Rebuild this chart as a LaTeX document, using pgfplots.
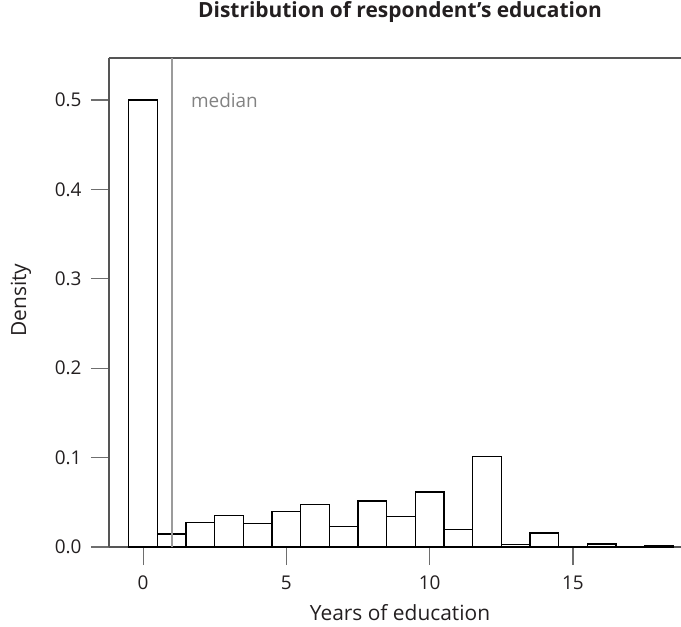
\documentclass[border=0pt]{standalone}
\usepackage{pgfplots}
\pgfplotsset{compat=1.18}
\usepackage{fontspec}
\setmainfont{Open Sans}
\definecolor{axgray}{RGB}{85,85,85}
\definecolor{tickgray}{RGB}{110,110,110}
\definecolor{txt}{RGB}{35,31,32}
\definecolor{medgray}{RGB}{155,155,155}
\definecolor{medtxt}{RGB}{130,130,130}
\begin{document}
\begin{tikzpicture}
\useasboundingbox (-109bp,-80bp) rectangle (572bp,547bp);
\begin{axis}[
  at={(0,0)}, anchor=south west,
  scale only axis, width=572bp, height=489bp,
  xmin=-1.19, xmax=18.77, ymin=0, ymax=0.547,
  axis x line=box, axis y line=left,
  axis line style={-, axgray, line width=1.3bp},
  xtick={0,5,10,15}, ytick={0,0.1,0.2,0.3,0.4,0.5},
  xtick pos=bottom, ytick pos=left,
  tick align=outside, major tick length=18bp,
  tick style={tickgray, line width=1.1bp},
  /pgf/number format/assume math mode=true,
  tick label style={font=\fontsize{19}{22}\selectfont, text=txt},
  yticklabel style={/pgf/number format/fixed, /pgf/number format/fixed zerofill, /pgf/number format/precision=1, xshift=-6bp},
  xticklabel style={yshift=-7bp},
  clip=false,
]
\addplot[ybar interval, fill=white, draw=black, line width=1.2bp] coordinates {
(-0.5,0.500) (0.5,0.0145) (1.5,0.027) (2.5,0.035) (3.5,0.026) (4.5,0.0395)
(5.5,0.0477) (6.5,0.023) (7.5,0.0515) (8.5,0.034) (9.5,0.0615) (10.5,0.0198)
(11.5,0.101) (12.5,0.0026) (13.5,0.0157) (14.5,0.0005) (15.5,0.0034)
(16.5,0) (17.5,0.0019) (18.5,0)
};
\addplot[medgray, line width=1.5bp] coordinates {(1,0) (1,0.547)};
\node[anchor=west, text=medtxt, font=\fontsize{19}{22}\selectfont] at (axis cs:1.55,0.5) {median};
\end{axis}
\node[font=\bfseries\fontsize{21}{24}\selectfont, text=txt] at (291bp,535bp) {Distribution of respondent's education};
\node[font=\fontsize{21}{24}\selectfont, text=txt] at (291bp,-66bp) {Years of education};
\node[font=\fontsize{21}{24}\selectfont, text=txt, rotate=90] at (-88bp,247bp) {Density};
\end{tikzpicture}
\end{document}
